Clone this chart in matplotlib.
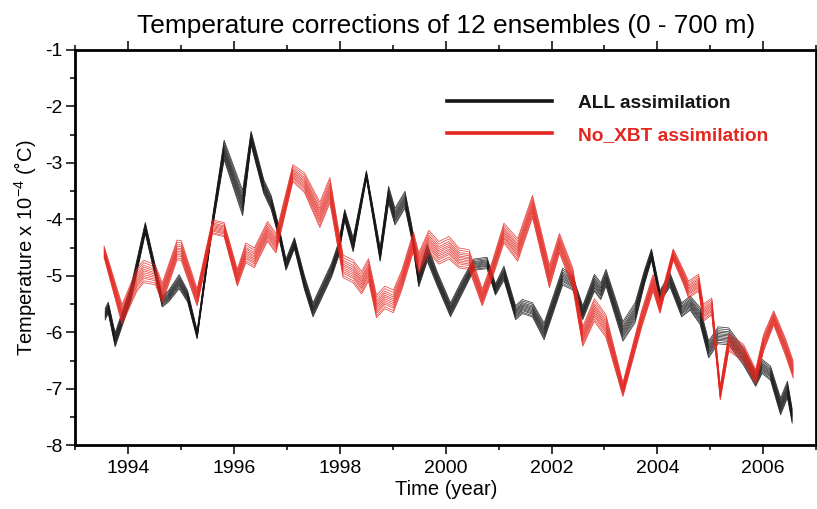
import numpy as np
import matplotlib
matplotlib.use("Agg")
import matplotlib.pyplot as plt
from matplotlib.ticker import MultipleLocator
from matplotlib.lines import Line2D

plt.rcParams['font.family'] = ['Liberation Sans', 'DejaVu Sans']
plt.rcParams['mathtext.fontset'] = 'custom'
plt.rcParams['mathtext.rm'] = 'Liberation Sans'
plt.rcParams['mathtext.it'] = 'Liberation Sans:italic'
plt.rcParams['mathtext.bf'] = 'Liberation Sans:bold'
plt.rcParams['axes.unicode_minus'] = False

# ---- data (ensemble-mean path, spread = full envelope width) ----
all_time = [1993.56, 1993.62, 1993.75, 1994.05, 1994.32, 1994.64, 1994.76, 1994.96, 1995.12, 1995.30,
            1995.59, 1995.81, 1996.16, 1996.32, 1996.56, 1996.70, 1996.85, 1996.98, 1997.14, 1997.33,
            1997.49, 1997.84, 1997.97, 1998.09, 1998.25, 1998.50, 1998.76, 1998.92, 1999.04, 1999.23,
            1999.36, 1999.49, 1999.65, 1999.83, 2000.09, 2000.31, 2000.53, 2000.78, 2000.94, 2001.10,
            2001.32, 2001.45, 2001.64, 2001.86, 2002.21, 2002.40, 2002.59, 2002.81, 2002.93, 2003.03,
            2003.35, 2003.58, 2003.76, 2003.89, 2004.05, 2004.24, 2004.46, 2004.62, 2004.81, 2004.97,
            2005.15, 2005.35, 2005.63, 2005.86, 2005.98, 2006.14, 2006.33, 2006.46, 2006.55]
all_value = [-5.68, -5.56, -6.13, -5.30, -4.15, -5.45, -5.36, -5.10, -5.36, -6.04,
             -4.06, -2.77, -3.71, -2.56, -3.42, -3.70, -4.24, -4.80, -4.42, -5.12,
             -5.60, -4.90, -4.54, -3.92, -4.45, -3.21, -4.62, -3.56, -3.95, -3.65,
             -4.24, -5.07, -4.59, -5.03, -5.60, -5.19, -4.80, -4.77, -5.24, -4.95,
             -5.65, -5.54, -5.60, -5.98, -5.01, -5.12, -5.65, -5.12, -5.27, -5.03,
             -5.98, -5.65, -5.01, -4.62, -5.36, -5.07, -5.60, -5.48, -5.71, -6.30,
             -6.05, -6.07, -6.43, -6.83, -6.60, -6.72, -7.31, -7.01, -7.48]
all_spread = [0.20, 0.20, 0.25, 0.25, 0.20, 0.20, 0.20, 0.25, 0.20, 0.15,
              0.20, 0.35, 0.45, 0.25, 0.25, 0.25, 0.20, 0.20, 0.20, 0.25,
              0.25, 0.25, 0.25, 0.20, 0.25, 0.15, 0.25, 0.30, 0.30, 0.30,
              0.25, 0.25, 0.30, 0.25, 0.25, 0.25, 0.20, 0.20, 0.20, 0.25,
              0.25, 0.25, 0.25, 0.30, 0.30, 0.25, 0.25, 0.30, 0.30, 0.30,
              0.35, 0.35, 0.25, 0.20, 0.20, 0.25, 0.25, 0.25, 0.30, 0.30,
              0.30, 0.30, 0.30, 0.25, 0.25, 0.25, 0.30, 0.30, 0.25]

noxbt_time = [1993.54, 1993.88, 1994.16, 1994.29, 1994.51, 1994.64, 1994.92, 1995.00, 1995.30, 1995.59,
              1995.81, 1996.06, 1996.22, 1996.38, 1996.63, 1996.79, 1997.11, 1997.33, 1997.62, 1997.81,
              1997.96, 1998.06, 1998.25, 1998.41, 1998.54, 1998.69, 1998.85, 1999.01, 1999.17, 1999.39,
              1999.49, 1999.68, 1999.87, 2000.06, 2000.25, 2000.44, 2000.69, 2000.88, 2001.10, 2001.36,
              2001.64, 2001.96, 2002.15, 2002.40, 2002.59, 2002.81, 2003.03, 2003.35, 2003.70, 2003.92,
              2004.05, 2004.30, 2004.49, 2004.59, 2004.78, 2004.87, 2005.03, 2005.19, 2005.35, 2005.63,
              2005.86, 2006.01, 2006.20, 2006.42, 2006.57]
noxbt_value = [-4.57, -5.68, -5.07, -4.92, -4.98, -5.30, -4.54, -4.55, -5.38, -4.13,
               -4.18, -5.03, -4.59, -4.68, -4.21, -4.42, -3.18, -3.35, -3.92, -3.48,
               -4.30, -4.83, -4.92, -5.12, -4.89, -5.54, -5.38, -5.45, -5.07, -4.39,
               -4.77, -4.39, -4.59, -4.50, -4.68, -4.71, -5.38, -4.89, -4.24, -4.54,
               -3.77, -5.01, -4.42, -5.03, -6.07, -5.60, -5.89, -7.01, -5.77, -5.12,
               -5.54, -4.62, -5.01, -5.24, -5.12, -5.65, -5.54, -7.07, -6.18, -6.36,
               -6.78, -6.18, -5.74, -6.25, -6.66]
noxbt_spread = [0.20, 0.35, 0.40, 0.40, 0.35, 0.35, 0.35, 0.35, 0.30, 0.25,
                0.25, 0.30, 0.35, 0.35, 0.35, 0.35, 0.30, 0.35, 0.45, 0.45,
                0.40, 0.40, 0.40, 0.40, 0.40, 0.40, 0.40, 0.40, 0.35, 0.35,
                0.35, 0.40, 0.40, 0.40, 0.35, 0.35, 0.30, 0.30, 0.35, 0.40,
                0.40, 0.40, 0.35, 0.35, 0.35, 0.40, 0.40, 0.25, 0.30, 0.30,
                0.25, 0.20, 0.25, 0.30, 0.30, 0.30, 0.30, 0.25, 0.30, 0.30,
                0.25, 0.30, 0.25, 0.30, 0.30]

member_offsets = [-1.0, -0.82, -0.6, -0.45, -0.28, -0.12, 0.05, 0.2, 0.38, 0.55, 0.78, 1.0]

xticks = [1994, 1996, 1998, 2000, 2002, 2004, 2006]
yticks = [-8, -7, -6, -5, -4, -3, -2, -1]
title = "Temperature corrections of 12 ensembles (0 - 700 m)"
legend_labels = ["ALL assimilation", "No_XBT assimilation"]

BLACK = '#161616'
RED = '#e3261f'

fig = plt.figure(figsize=(8.17, 5.09), dpi=100)
ax = fig.add_axes([0.0924, 0.1248, 0.9064, 0.7770])

for t, v, s, c in [(all_time, all_value, all_spread, BLACK),
                   (noxbt_time, noxbt_value, noxbt_spread, RED)]:
    t = np.asarray(t); v = np.asarray(v); s = np.asarray(s)
    for k, off in enumerate(member_offsets):
        ax.plot(t, v + off * s / 2.0, color=c, lw=0.55, alpha=0.85, solid_joinstyle='miter')

ax.set_xlim(1993, 2007)
ax.set_ylim(-8, -1)
ax.set_xticks(xticks)
ax.set_xticklabels([str(x) for x in xticks])
ax.xaxis.set_minor_locator(MultipleLocator(1))
ax.set_yticks(yticks)
ax.set_yticklabels([str(y) for y in yticks])
ax.yaxis.set_minor_locator(MultipleLocator(0.5))

ax.tick_params(axis='x', which='both', direction='out', top=True, bottom=True, labelsize=14, pad=4)
ax.tick_params(axis='y', which='both', direction='out', left=True, right=False, labelsize=14, pad=3)
ax.tick_params(which='major', length=6.5, width=1.1)
ax.tick_params(which='minor', length=3.6, width=1.1)
for sp in ax.spines.values():
    sp.set_linewidth(2.0)

ax.set_title(title, fontsize=18.9, pad=12)
ax.set_xlabel("Time (year)", fontsize=14.5, labelpad=2)
ax.set_ylabel("Temperature x 10$^{-4}$ (\u02daC)", fontsize=14.5, labelpad=5)

handles = [Line2D([], [], color=BLACK, lw=2.6), Line2D([], [], color=RED, lw=2.6)]
leg = ax.legend(handles, legend_labels, loc='upper left', bbox_to_anchor=(0.5017, 0.887),
                frameon=False, handlelength=5.5, handletextpad=1.35, labelspacing=0.75,
                borderpad=0, borderaxespad=0,
                prop={'size': 13.8, 'weight': 'bold'})
for txt, c in zip(leg.get_texts(), [BLACK, RED]):
    txt.set_color(c)

fig.savefig("out.png", dpi=100)
